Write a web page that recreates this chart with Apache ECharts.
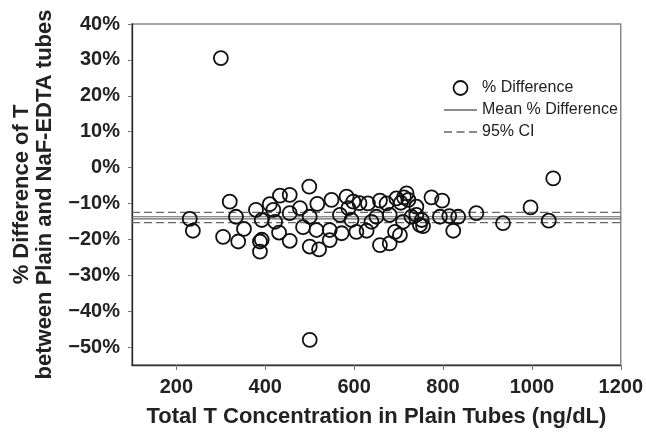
<!DOCTYPE html>
<html>
<head>
<meta charset="utf-8">
<script src="https://cdn.jsdelivr.net/npm/echarts@6/dist/echarts.min.js"></script>
<style>
  html, body { margin: 0; padding: 0; background: #fff; }
  #chart { width: 646px; height: 433px; }
</style>
</head>
<body>
<div id="chart"></div>
<script>
// total T in plain tubes (ng/dL) and % difference
const concentration = [
  230, 237, 320, 334, 305, 339, 300, 500,
  499, 433, 455, 410, 418, 379, 392, 352, 388, 392, 388, 431, 455, 455, 422, 478,
  485, 500, 521, 515, 517, 549, 500, 545, 545, 568, 583, 587, 572, 594, 598, 612,
  631, 605, 628, 658, 673, 695, 718, 722, 680, 710, 658, 680, 692, 740, 748, 650,
  639, 740, 729, 703, 752, 755, 774, 798, 793, 814, 834, 823, 875, 935, 997, 1048,
  1038, 705, 712
];
const pctDiff = [
  -14.3, -17.6, -9.5, -13.7, -19.3, -20.6, 30.5, -48,
  -5.3, -7.8, -7.6, -10.2, -11.8, -11.8, -14.6, -17.1, -20.6, -20.1, -23.4, -18.1, -20.4, -12.7, -15.1, -11.3,
  -16.6, -22.0, -22.8, -17.4, -10.1, -9.0, -13.7, -17.4, -20.2, -13.2, -8.1, -11.3, -18.3, -14.6, -9.5, -9.9,
  -10.0, -17.9, -17.6, -9.2, -10.0, -8.6, -7.2, -9.0, -13.2, -15.1, -21.6, -21.1, -17.9, -13.2, -16.0, -13.7,
  -15.1, -10.9, -13.7, -18.8, -14.6, -16.3, -8.3, -9.2, -13.7, -13.5, -13.7, -17.6, -12.7, -15.5, -11.1, -3.0,
  -14.8, -9.8, -8.3
];
const meanLines = [-13.7, -14.3];
const ciLines = [-12.5, -15.35];
const xTicks = [200, 400, 600, 800, 1000, 1200];
const yTicks = [-50, -40, -30, -20, -10, 0, 10, 20, 30, 40];

const font = 'Liberation Sans, Arial, sans-serif';
const points = concentration.map((x, i) => [x, pctDiff[i]]);

// legend glyphs for the reference lines (thin bars)
const solidIcon = 'path://M0,0h33v1.3h-33z';
const dashIcon = 'path://M0,0h8v1.3h-8zM12.5,0h8v1.3h-8zM25,0h8v1.3h-8z';

const hLine = (name, v, dashed) => ({
  name: name,
  type: 'line',
  data: [[100, v], [1200, v]],
  symbol: 'none',
  silent: true,
  z: 1,
  itemStyle: { color: '#666' },
  lineStyle: { color: '#666', width: 1.2, type: dashed ? [8, 4] : 'solid' }
});

const chart = echarts.init(document.getElementById('chart'));

chart.setOption({
  animation: false,
  backgroundColor: '#fff',
  grid: {
    left: 132, right: 25, top: 24, bottom: 68,
    show: true, borderColor: '#888', borderWidth: 1.5
  },
  legend: {
    left: 439, top: 75,
    orient: 'vertical',
    itemWidth: 33, itemHeight: 14, itemGap: 6,
    textStyle: { fontFamily: font, fontSize: 16, color: '#222' },
    data: [
      { name: '% Difference', icon: 'circle',
        itemStyle: { color: 'rgba(0,0,0,0)', borderColor: '#111', borderWidth: 1.8 } },
      { name: 'Mean % Difference', icon: solidIcon, itemStyle: { color: '#666', borderWidth: 0 } },
      { name: '95% CI', icon: dashIcon, itemStyle: { color: '#666', borderWidth: 0 } }
    ]
  },
  xAxis: {
    type: 'value', min: 100, max: 1200,
    name: 'Total T Concentration in Plain Tubes (ng/dL)',
    nameLocation: 'middle', nameGap: 41,
    nameTextStyle: { fontFamily: font, fontSize: 22, fontWeight: 'bold', color: '#222' },
    axisLine: { show: true, onZero: false, lineStyle: { color: '#333', width: 1.3 } },
    axisTick: { show: true, customValues: xTicks, length: 5, lineStyle: { color: '#777' } },
    axisLabel: {
      customValues: xTicks, fontFamily: font, fontSize: 20, fontWeight: 'bold', color: '#222', margin: 12,
      formatter: v => String(v)
    },
    splitLine: { show: false }
  },
  yAxis: {
    type: 'value', min: -55, max: 40,
    name: '% Difference of T\nbetween Plain and NaF-EDTA tubes',
    nameLocation: 'middle', nameGap: 76,
    nameTextStyle: { fontFamily: font, fontSize: 22, fontWeight: 'bold', color: '#222', lineHeight: 23 },
    axisLine: { show: true, onZero: false, lineStyle: { color: '#222', width: 1.3 } },
    axisTick: { show: true, customValues: yTicks, length: 4, lineStyle: { color: '#777' } },
    axisLabel: {
      customValues: yTicks, fontFamily: font, fontSize: 20, fontWeight: 'bold', color: '#222', margin: 12,
      formatter: v => (v < 0 ? '\u2212' + (-v) : v) + '%'
    },
    splitLine: { show: false }
  },
  series: [
    hLine('Mean % Difference', meanLines[0], false),
    hLine('Mean % Difference', meanLines[1], false),
    hLine('95% CI', ciLines[0], true),
    hLine('95% CI', ciLines[1], true),
    {
      name: '% Difference',
      type: 'scatter',
      data: points,
      symbol: 'circle',
      symbolSize: 14,
      z: 3,
      itemStyle: { color: 'rgba(0,0,0,0)', borderColor: '#111', borderWidth: 1.8, opacity: 1 }
    }
  ]
});
</script>
</body>
</html>
